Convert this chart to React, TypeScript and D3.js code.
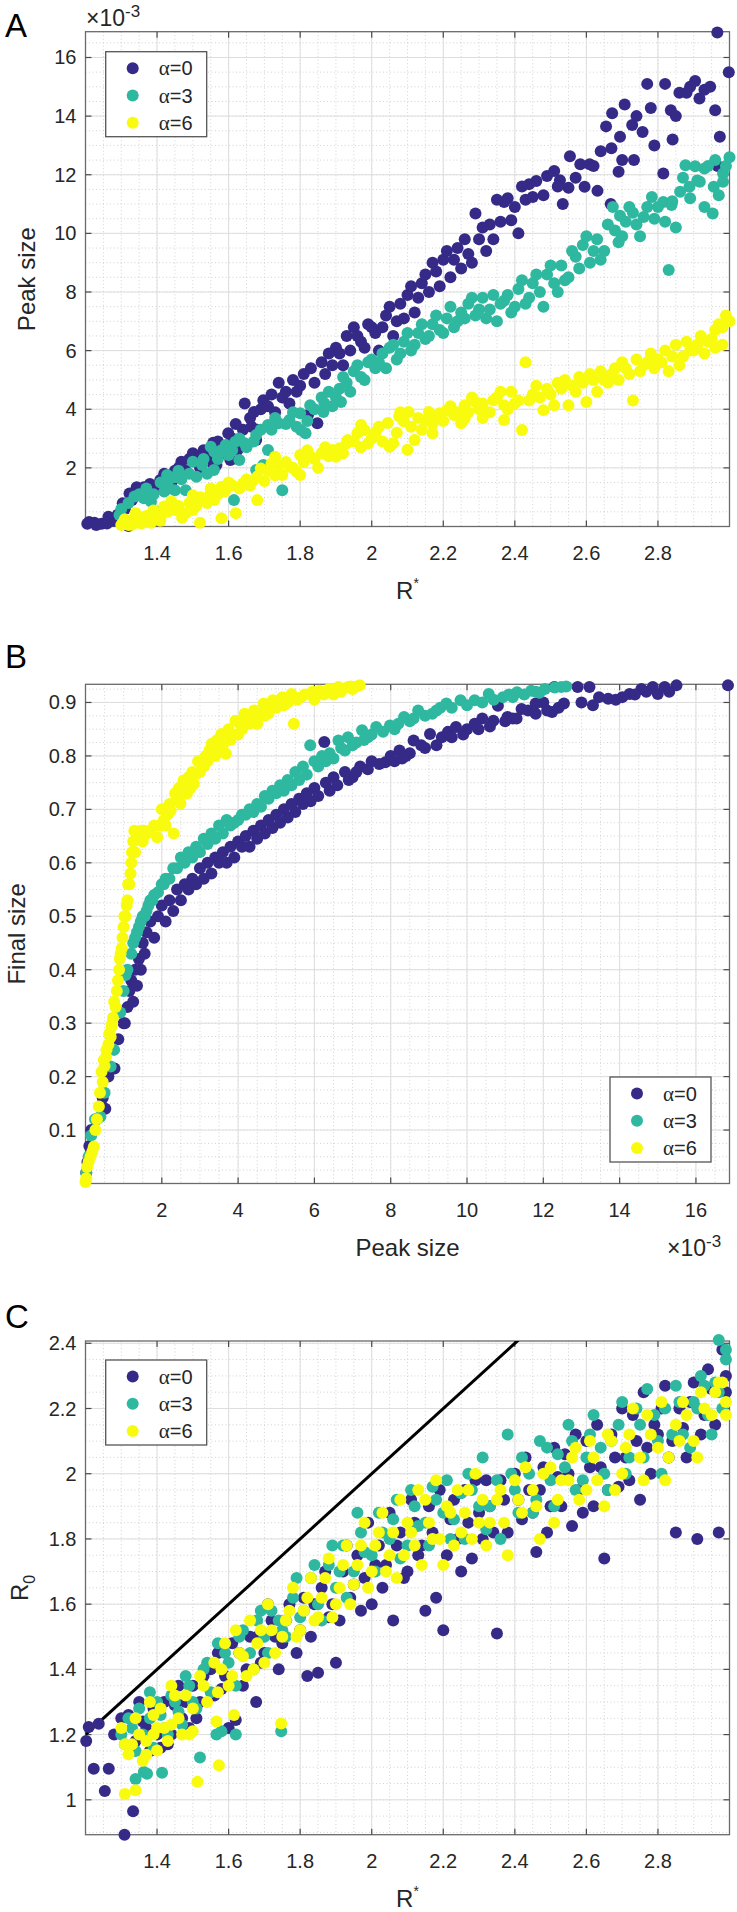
import React from 'react';
import * as d3 from 'd3';

const W = 737;
const H = 1912;
const FONT = "'Liberation Sans', Arial, Helvetica, sans-serif";
const COLORS = ['#352a87', '#2fb8a0', '#f9fb0e'];
const LEGEND_LABELS = ['=0', '=3', '=6'];

// ---------- Panel A : R* vs peak size (x1e-3) ----------
const peakA0: [number, number][] = [
  [1.205,0.09],[1.225,0.13],[1.245,0.09],[1.264,0.33],[1.28,0.2],[1.304,0.79],[1.32,0.02],[1.323,1.13],[1.343,1.34],[1.363,1.34],[1.383,1.13],[1.37,1.0],[1.409,1.59],[1.43,1.3],[1.45,1.9],[1.468,2.21],[1.49,2.3],[1.5,2.5],[1.52,2.0],[1.54,2.4],[1.557,2.86],[1.566,2.1],[1.58,2.7],[1.599,3.18],[1.605,2.27],[1.625,2.61],[1.64,3.3],[1.645,4.2],[1.664,3.4],[1.671,3.91],[1.677,2.95],[1.697,4.31],[1.72,4.5],[1.74,4.9],[1.76,4.6],[1.78,5.0],[1.8,4.8],[1.822,3.8],[1.83,5.4],[1.848,3.52],[1.86,5.6],[1.88,5.9],[1.9,6.1],[1.92,5.5],[1.93,6.5],[1.95,6.8],[1.97,6.3],[1.99,6.9],[2.01,6.6],[2.02,6.0],[2.04,7.2],[2.06,6.5],[2.08,7.6],[2.1,7.9],[2.12,7.3],[2.14,8.3],[2.16,8.0],[2.18,8.7],[2.2,9.1],[2.22,8.5],[2.24,9.5],[2.25,8.8],[2.27,9.3],[2.29,10.68],[2.3,9.8],[2.32,9.4],[2.33,10.3],[2.35,11.15],[2.37,11.07],[2.39,10.45],[2.41,10.0],[2.43,11.15],[2.44,11.68],[2.45,11.24],[2.46,11.79],[2.49,11.96],[2.51,12.13],[2.526,11.81],[2.534,11.0],[2.55,11.56],[2.554,12.63],[2.583,12.36],[2.595,11.59],[2.609,12.36],[2.631,11.45],[2.655,13.65],[2.668,11.0],[2.672,14.1],[2.694,13.3],[2.7,12.5],[2.707,14.4],[2.728,13.7],[2.733,12.5],[2.757,13.46],[2.77,15.1],[2.78,14.28],[2.815,12.04],[2.82,15.1],[2.836,14.2],[2.841,13.2],[2.86,14.8],[2.88,14.8],[2.904,15.2],[2.916,14.6],[2.946,15.0],[2.966,16.85],[2.967,12.3],[2.973,13.3],[2.998,15.5],
  [1.21,0.15],[1.23,0.05],[1.26,0.1],[1.29,0.4],[1.31,0.6],[1.33,0.9],[1.35,1.2],[1.38,1.45],[1.4,1.3],[1.42,1.8],[1.44,1.5],[1.46,2.0],[1.48,1.9],[1.51,2.3],[1.53,2.6],[1.55,2.2],[1.57,2.9],[1.59,2.5],[1.61,3.0],[1.62,3.5],[1.63,2.9],[1.66,3.7],[1.68,3.3],[1.69,4.0],[1.71,4.1],[1.73,3.9],[1.75,4.4],[1.77,4.2],[1.79,4.6],[1.81,5.2],[1.84,4.9],[1.87,5.2],[1.89,5.5],[1.91,5.9],[1.94,6.0],[1.96,6.5],[1.98,6.1],[2.0,6.8],[2.03,6.8],[2.05,7.5],[2.07,7.0],[2.09,7.1],[2.11,8.2],[2.13,7.8],[2.15,8.6],[2.17,9.0],[2.19,8.2],[2.21,9.4],[2.23,9.1],[2.26,9.8],[2.28,9.0],[2.31,10.2],[2.34,9.8],[2.36,10.4],[2.38,11.2],[2.4,10.9],[2.42,11.6],[2.48,11.3],[2.52,11.6],[2.57,11.9],[2.62,12.3],[2.64,12.8],[2.67,12.9],[2.69,12.1],[2.74,14.0],[2.79,13.0],[2.85,14.0],[2.89,15.0],[2.93,14.9],[2.96,14.2]
];
const peakA3: [number, number][] = [
  [1.295,0.39],[1.31,0.2],[1.337,1.02],[1.363,0.96],[1.383,0.85],[1.4,0.5],[1.42,1.19],[1.428,1.76],[1.448,1.68],[1.45,1.24],[1.468,1.61],[1.48,1.24],[1.5,2.21],[1.526,2.1],[1.55,2.72],[1.559,1.93],[1.56,2.55],[1.592,2.78],[1.6,2.44],[1.615,0.9],[1.619,2.89],[1.63,2.27],[1.645,2.84],[1.677,3.12],[1.677,1.93],[1.697,2.1],[1.71,2.61],[1.71,3.46],[1.74,3.52],[1.75,1.24],[1.77,3.63],[1.8,3.86],[1.802,3.29],[1.815,3.18],[1.828,4.14],[1.865,3.91],[1.868,4.2],[1.88,4.6],[1.9,4.4],[1.914,4.25],[1.93,4.9],[1.95,5.3],[1.97,5.1],[1.99,5.6],[2.01,5.4],[2.03,5.9],[2.05,6.1],[2.07,5.7],[2.09,6.3],[2.11,6.0],[2.13,6.6],[2.15,6.4],[2.17,6.9],[2.19,6.7],[2.21,7.1],[2.23,6.8],[2.25,7.3],[2.27,7.6],[2.29,7.2],[2.31,7.8],[2.33,7.4],[2.35,7.0],[2.37,7.7],[2.39,7.3],[2.41,8.1],[2.43,7.6],[2.45,8.3],[2.47,8.0],[2.49,8.6],[2.51,8.3],[2.53,8.9],[2.55,8.5],[2.57,9.2],[2.59,9.6],[2.61,9.0],[2.63,9.8],[2.65,9.4],[2.674,10.9],[2.68,10.1],[2.694,10.6],[2.7,9.9],[2.72,10.9],[2.74,10.3],[2.76,10.56],[2.783,11.24],[2.79,10.5],[2.815,11.07],[2.838,10.97],[2.85,10.2],[2.862,11.42],[2.877,12.32],[2.888,11.59],[2.904,12.29],[2.917,11.76],[2.93,12.21],[2.93,10.9],[2.953,10.68],[2.956,11.59],[2.96,12.5],[2.982,12.04],[2.982,11.76],[2.99,12.3],[3.0,12.6],
  [1.3,0.6],[1.32,0.8],[1.35,1.1],[1.37,1.3],[1.39,1.1],[1.41,1.5],[1.43,1.4],[1.46,1.9],[1.49,1.8],[1.51,1.7],[1.53,2.3],[1.54,1.8],[1.57,2.3],[1.58,2.6],[1.61,2.6],[1.63,3.0],[1.65,2.7],[1.67,2.9],[1.69,3.3],[1.72,3.3],[1.73,3.7],[1.76,3.5],[1.78,3.9],[1.79,3.4],[1.82,3.6],[1.84,4.0],[1.86,4.4],[1.89,4.1],[1.91,4.7],[1.92,5.1],[1.94,4.6],[1.96,5.5],[1.98,5.0],[2.0,5.7],[2.02,5.6],[2.04,5.4],[2.06,6.2],[2.08,5.9],[2.1,6.6],[2.12,6.2],[2.14,6.9],[2.16,6.5],[2.18,7.2],[2.2,6.6],[2.22,7.5],[2.24,7.0],[2.26,7.1],[2.28,7.8],[2.3,7.4],[2.32,7.1],[2.34,7.9],[2.36,7.6],[2.38,7.9],[2.4,7.5],[2.42,8.4],[2.44,7.8],[2.46,8.6],[2.48,7.5],[2.5,8.9],[2.52,8.0],[2.54,8.4],[2.56,9.4],[2.58,8.8],[2.6,9.9],[2.62,9.4],[2.64,9.1],[2.66,10.3],[2.69,9.7],[2.71,10.4],[2.73,10.7],[2.75,9.9],[2.77,10.9],[2.8,10.9],[2.82,10.4],[2.83,8.75],[2.84,11.1],[2.87,11.9],[2.89,11.2],[2.91,11.8],[2.94,12.3],[2.97,11.3]
];
const peakA6: [number, number][] = [
  [1.304,0.11],[1.32,0.05],[1.33,0.06],[1.34,0.45],[1.356,0.1],[1.37,0.36],[1.383,0.13],[1.4,0.28],[1.409,0.2],[1.42,0.68],[1.45,0.56],[1.48,0.45],[1.5,0.56],[1.5,1.07],[1.52,0.13],[1.53,0.96],[1.55,1.3],[1.56,0.9],[1.58,0.28],[1.58,1.36],[1.61,1.41],[1.62,0.45],[1.64,1.47],[1.67,1.59],[1.68,0.9],[1.69,1.98],[1.72,2.15],[1.73,2.38],[1.74,2.1],[1.75,1.76],[1.77,2.04],[1.79,1.87],[1.8,2.44],[1.8,1.76],[1.83,2.38],[1.86,2.5],[1.89,2.61],[1.9,2.38],[1.91,2.67],[1.93,2.84],[1.933,2.95],[1.96,3.18],[1.97,3.46],[1.98,3.29],[1.99,2.84],[2.0,3.0],[2.045,3.53],[2.05,2.72],[2.06,2.84],[2.077,3.75],[2.09,3.58],[2.1,2.62],[2.103,3.91],[2.12,2.95],[2.15,3.63],[2.16,3.91],[2.17,3.18],[2.18,3.7],[2.19,3.86],[2.21,3.97],[2.23,3.8],[2.25,3.52],[2.26,3.69],[2.26,4.14],[2.29,4.25],[2.31,4.2],[2.31,3.7],[2.34,4.31],[2.37,4.14],[2.37,3.63],[2.4,4.2],[2.41,4.3],[2.42,3.29],[2.43,5.6],[2.45,4.5],[2.48,3.97],[2.49,4.7],[2.51,4.14],[2.52,4.9],[2.55,4.14],[2.56,4.8],[2.58,5.1],[2.6,4.25],[2.62,5.0],[2.64,5.3],[2.66,4.9],[2.68,5.4],[2.7,5.6],[2.72,5.2],[2.73,4.3],[2.74,5.7],[2.76,5.5],[2.78,5.9],[2.8,5.7],[2.82,6.0],[2.83,5.3],[2.85,6.2],[2.87,5.8],[2.88,6.3],[2.9,6.0],[2.92,6.5],[2.94,6.3],[2.96,6.7],[2.97,6.9],[2.99,7.2],[2.98,6.2],
  [1.3,0.05],[1.31,0.25],[1.33,0.2],[1.35,0.3],[1.36,0.15],[1.38,0.4],[1.39,0.55],[1.41,0.35],[1.43,0.5],[1.44,0.85],[1.46,0.7],[1.47,0.3],[1.49,0.8],[1.51,0.7],[1.52,1.0],[1.54,0.8],[1.55,1.15],[1.57,1.1],[1.59,1.2],[1.6,1.5],[1.63,1.3],[1.65,1.6],[1.66,1.4],[1.68,1.7],[1.7,1.55],[1.71,1.9],[1.73,1.75],[1.76,2.2],[1.78,2.0],[1.81,2.2],[1.82,2.6],[1.84,2.3],[1.85,2.0],[1.87,2.7],[1.88,2.4],[1.92,2.5],[1.95,2.9],[1.97,2.7],[2.01,3.2],[2.02,3.4],[2.03,2.9],[2.07,3.2],[2.08,3.9],[2.11,3.4],[2.13,3.7],[2.14,3.3],[2.17,3.5],[2.2,3.6],[2.22,4.1],[2.24,3.9],[2.27,3.9],[2.28,4.4],[2.3,4.0],[2.33,3.9],[2.35,4.4],[2.36,4.6],[2.38,4.0],[2.39,4.6],[2.44,4.3],[2.46,4.8],[2.47,4.4],[2.5,4.5],[2.53,4.7],[2.54,5.0],[2.57,4.6],[2.59,4.9],[2.61,5.2],[2.63,4.6],[2.65,5.0],[2.67,5.2],[2.69,5.0],[2.71,5.4],[2.75,5.3],[2.77,5.6],[2.79,5.4],[2.81,5.6],[2.84,5.8],[2.86,5.5],[2.89,6.0],[2.91,6.2],[2.93,5.9],[2.95,6.4],[2.96,6.1],[2.98,6.8],[3.0,7.0]
];

// ---------- Panel B : peak size (x1e-3) vs final size ----------
const finalB0: [number, number][] = [
  [0.02,0.02],[0.05,0.04],[0.1,0.07],[0.15,0.1],[0.3,0.12],[0.45,0.16],[0.52,0.14],[0.6,0.2],[0.76,0.215],[0.86,0.27],[1.0,0.3],[1.03,0.3],[1.1,0.33],[1.15,0.36],[1.2,0.38],[1.3,0.4],[1.4,0.42],[1.5,0.45],[1.6,0.47],[1.7,0.49],[1.9,0.5],[2.0,0.52],[2.2,0.53],[2.4,0.55],[2.6,0.56],[2.8,0.57],[3.0,0.59],[3.2,0.6],[3.4,0.61],[3.6,0.62],[3.8,0.63],[4.0,0.64],[4.2,0.65],[4.4,0.66],[4.6,0.67],[4.8,0.68],[5.0,0.69],[5.2,0.7],[5.4,0.71],[5.6,0.72],[5.8,0.73],[6.0,0.74],[6.26,0.826],[6.3,0.75],[6.5,0.76],[6.8,0.77],[7.0,0.76],[7.2,0.78],[7.5,0.79],[7.86,0.788],[8.0,0.8],[8.23,0.81],[8.4,0.8],[8.6,0.829],[8.8,0.82],[9.03,0.841],[9.34,0.835],[9.5,0.845],[9.71,0.854],[10.0,0.85],[10.2,0.86],[10.4,0.87],[10.69,0.866],[10.81,0.894],[11.06,0.873],[11.2,0.87],[11.43,0.888],[11.6,0.885],[11.8,0.879],[11.8,0.898],[12.0,0.9],[12.23,0.882],[12.29,0.929],[12.54,0.898],[12.9,0.929],[13.21,0.929],[13.46,0.91],[13.7,0.907],[14.07,0.91],[14.26,0.916],[14.57,0.925],[14.87,0.929],[15.0,0.916],[15.18,0.929],[15.49,0.932],[16.84,0.932],
  [1.25,0.34],[1.35,0.37],[1.45,0.4],[1.55,0.43],[1.8,0.46],[2.1,0.49],[2.3,0.51],[2.5,0.53],[2.7,0.55],[2.9,0.56],[3.1,0.57],[3.3,0.58],[3.5,0.6],[3.7,0.6],[3.9,0.61],[4.1,0.63],[4.3,0.63],[4.5,0.645],[4.7,0.655],[4.9,0.665],[5.1,0.675],[5.3,0.685],[5.5,0.695],[5.7,0.71],[5.9,0.715],[6.1,0.725],[6.4,0.735],[6.6,0.745],[6.9,0.755],[7.1,0.77],[7.4,0.775],[7.7,0.785],[8.1,0.79],[8.3,0.795],[8.5,0.805],[8.9,0.815],[9.2,0.82],[9.6,0.835],[9.9,0.84],[10.3,0.85],[10.6,0.855],[11.0,0.865],[11.3,0.87],[12.1,0.885],[12.4,0.89],[13.0,0.9],[13.3,0.895],[13.9,0.905],[14.4,0.915],[14.7,0.92],[15.3,0.92]
];
const finalB3: [number, number][] = [
  [0.02,0.02],[0.08,0.05],[0.15,0.09],[0.25,0.12],[0.39,0.125],[0.5,0.17],[0.66,0.219],[0.75,0.25],[0.91,0.32],[1.0,0.36],[1.05,0.39],[1.1,0.4],[1.2,0.43],[1.3,0.46],[1.4,0.48],[1.5,0.5],[1.6,0.51],[1.7,0.53],[1.8,0.54],[2.0,0.56],[2.1,0.57],[2.3,0.59],[2.5,0.61],[2.7,0.62],[2.9,0.63],[3.1,0.645],[3.3,0.655],[3.5,0.67],[3.7,0.68],[3.9,0.675],[4.1,0.69],[4.3,0.7],[4.5,0.71],[4.7,0.725],[4.9,0.735],[5.1,0.745],[5.3,0.755],[5.5,0.77],[5.7,0.78],[5.89,0.82],[6.0,0.79],[6.2,0.8],[6.4,0.805],[6.63,0.829],[6.7,0.815],[6.88,0.835],[7.0,0.82],[7.25,0.848],[7.4,0.835],[7.62,0.854],[7.98,0.857],[8.1,0.85],[8.35,0.873],[8.5,0.865],[8.72,0.885],[9.09,0.879],[9.3,0.89],[9.46,0.898],[9.83,0.904],[10.2,0.904],[10.4,0.9],[10.57,0.916],[10.94,0.91],[11.1,0.915],[11.31,0.919],[11.68,0.922],[11.9,0.918],[12.04,0.925],[12.3,0.928],[12.47,0.929],[12.6,0.93],
  [1.25,0.45],[1.35,0.47],[1.45,0.49],[1.55,0.5],[1.65,0.52],[1.75,0.53],[1.9,0.545],[2.05,0.56],[2.2,0.57],[2.4,0.59],[2.6,0.6],[2.8,0.61],[3.0,0.62],[3.2,0.635],[3.4,0.645],[3.6,0.655],[3.8,0.67],[4.0,0.68],[4.2,0.69],[4.4,0.695],[4.6,0.705],[4.8,0.72],[5.0,0.73],[5.2,0.735],[5.4,0.745],[5.6,0.755],[5.8,0.765],[6.1,0.78],[6.3,0.79],[6.5,0.795],[6.8,0.81],[7.1,0.825],[7.3,0.83],[7.5,0.84],[7.8,0.845],[8.2,0.86],[8.6,0.87],[8.9,0.875],[9.2,0.885],[9.6,0.89],[10.0,0.895],[10.7,0.905],[11.2,0.91],[11.5,0.915],[11.8,0.92]
];
const finalB6: [number, number][] = [
  [0.0,0.003],[0.02,0.01],[0.04,0.031],[0.08,0.04],[0.13,0.05],[0.18,0.06],[0.22,0.069],[0.26,0.1],[0.3,0.12],[0.35,0.144],[0.38,0.17],[0.42,0.209],[0.45,0.19],[0.48,0.231],[0.54,0.237],[0.6,0.26],[0.66,0.274],[0.68,0.293],[0.72,0.31],[0.79,0.33],[0.82,0.36],[0.85,0.38],[0.9,0.42],[0.95,0.44],[1.0,0.48],[1.05,0.5],[1.1,0.53],[1.15,0.56],[1.2,0.6],[1.25,0.64],[1.3,0.62],[1.35,0.65],[1.45,0.66],[1.5,0.64],[1.61,0.655],[1.7,0.66],[1.88,0.648],[1.95,0.67],[2.05,0.679],[2.15,0.69],[2.23,0.698],[2.31,0.655],[2.4,0.72],[2.49,0.711],[2.57,0.754],[2.66,0.729],[2.75,0.74],[2.84,0.748],[2.92,0.767],[3.0,0.77],[3.1,0.78],[3.2,0.79],[3.31,0.823],[3.4,0.8],[3.5,0.81],[3.56,0.841],[3.68,0.804],[3.8,0.83],[3.93,0.866],[4.0,0.84],[4.17,0.879],[4.3,0.86],[4.42,0.885],[4.5,0.86],[4.67,0.898],[4.8,0.88],[4.91,0.904],[5.0,0.89],[5.16,0.91],[5.3,0.9],[5.4,0.916],[5.46,0.86],[5.65,0.91],[5.9,0.916],[6.0,0.905],[6.14,0.922],[6.38,0.925],[6.5,0.915],[6.63,0.929],[6.88,0.929],[7.0,0.925],[7.19,0.932],
  [0.5,0.22],[0.55,0.25],[0.62,0.28],[0.7,0.3],[0.75,0.34],[0.88,0.4],[0.92,0.43],[0.97,0.46],[1.02,0.5],[1.08,0.52],[1.12,0.56],[1.18,0.58],[1.22,0.62],[1.28,0.66],[1.4,0.65],[1.55,0.66],[1.8,0.67],[2.0,0.7],[2.1,0.67],[2.2,0.71],[2.35,0.73],[2.45,0.74],[2.6,0.74],[2.7,0.76],[2.8,0.77],[2.95,0.79],[3.05,0.79],[3.15,0.8],[3.25,0.81],[3.45,0.83],[3.6,0.82],[3.75,0.85],[3.85,0.84],[4.05,0.86],[4.1,0.85],[4.25,0.87],[4.35,0.87],[4.55,0.88],[4.7,0.875],[4.85,0.89],[5.05,0.9],[5.2,0.895],[5.35,0.91],[5.55,0.905],[5.75,0.915],[5.95,0.92],[6.25,0.915],[6.45,0.925],[6.7,0.92],[6.95,0.93],[7.1,0.93]
];

// ---------- Panel C : R* vs R0 ----------
const r0C0: [number, number][] = [
  [1.202,1.18],[1.209,1.223],[1.223,1.095],[1.237,1.233],[1.254,1.027],[1.265,1.095],[1.309,0.893],[1.32,1.26],[1.333,0.965],[1.34,1.18],[1.36,1.24],[1.38,1.15],[1.4,1.2],[1.42,1.3],[1.43,1.17],[1.45,1.29],[1.47,1.25],[1.49,1.22],[1.5,1.35],[1.52,1.3],[1.55,1.4],[1.58,1.34],[1.6,1.22],[1.62,1.245],[1.63,1.45],[1.65,1.4],[1.677,1.3],[1.68,1.5],[1.7,1.45],[1.72,1.55],[1.75,1.48],[1.77,1.6],[1.8,1.52],[1.82,1.38],[1.84,1.6],[1.86,1.65],[1.88,1.56],[1.9,1.42],[1.92,1.7],[1.94,1.62],[1.96,1.75],[1.98,1.68],[2.0,1.6],[2.02,1.78],[2.04,1.72],[2.06,1.55],[2.08,1.82],[2.1,1.7],[2.12,1.85],[2.14,1.78],[2.16,1.9],[2.18,1.62],[2.2,1.52],[2.22,1.86],[2.24,1.8],[2.26,1.95],[2.28,1.74],[2.3,1.88],[2.32,1.98],[2.34,1.82],[2.35,1.51],[2.37,1.92],[2.4,2.0],[2.42,1.86],[2.44,1.95],[2.46,1.76],[2.48,2.02],[2.5,1.9],[2.52,1.99],[2.54,2.06],[2.56,1.84],[2.58,1.95],[2.6,2.1],[2.62,1.9],[2.64,2.02],[2.65,1.74],[2.67,2.12],[2.69,1.96],[2.71,2.05],[2.73,2.18],[2.75,1.92],[2.77,2.08],[2.79,2.15],[2.81,2.2],[2.83,2.05],[2.85,1.82],[2.87,2.14],[2.89,2.22],[2.91,1.8],[2.93,2.18],[2.95,2.26],[2.97,1.82],[2.98,2.38],[2.99,2.25],
  [1.28,1.2],[1.3,1.25],[1.35,1.3],[1.37,1.22],[1.39,1.28],[1.41,1.16],[1.44,1.2],[1.46,1.35],[1.48,1.3],[1.51,1.25],[1.53,1.38],[1.56,1.32],[1.57,1.45],[1.59,1.38],[1.61,1.48],[1.64,1.35],[1.66,1.5],[1.69,1.42],[1.71,1.6],[1.73,1.5],[1.74,1.4],[1.76,1.55],[1.79,1.45],[1.81,1.62],[1.83,1.5],[1.85,1.39],[1.87,1.7],[1.89,1.6],[1.91,1.55],[1.93,1.78],[1.95,1.66],[1.97,1.58],[1.99,1.85],[2.01,1.72],[2.03,1.65],[2.05,1.88],[2.07,1.78],[2.09,1.68],[2.11,1.92],[2.13,1.75],[2.15,1.58],[2.17,1.82],[2.19,1.95],[2.21,1.75],[2.23,1.92],[2.25,1.7],[2.27,1.85],[2.29,1.98],[2.31,1.8],[2.33,1.9],[2.36,1.98],[2.38,1.82],[2.41,1.92],[2.43,2.05],[2.45,1.88],[2.47,1.95],[2.49,1.82],[2.51,2.08],[2.53,1.9],[2.55,2.0],[2.57,2.12],[2.59,1.88],[2.61,2.02],[2.63,2.15],[2.66,1.95],[2.68,2.05],[2.7,2.2],[2.72,1.98],[2.74,2.1],[2.76,2.25],[2.78,2.0],[2.8,2.12],[2.82,2.27],[2.84,2.1],[2.86,2.2],[2.88,2.05],[2.9,2.28],[2.92,2.12],[2.94,2.32],[2.96,2.15],[2.99,2.3]
];
const r0C3: [number, number][] = [
  [1.31,1.17],[1.33,1.22],[1.34,1.064],[1.35,1.28],[1.363,1.085],[1.372,1.08],[1.38,1.25],[1.4,1.3],[1.414,1.083],[1.42,1.22],[1.44,1.32],[1.46,1.27],[1.48,1.38],[1.5,1.3],[1.52,1.13],[1.54,1.42],[1.566,1.2],[1.58,1.21],[1.59,1.45],[1.62,1.2],[1.63,1.5],[1.66,1.45],[1.68,1.55],[1.7,1.5],[1.72,1.58],[1.747,1.21],[1.75,1.52],[1.78,1.62],[1.8,1.56],[1.83,1.68],[1.85,1.6],[1.88,1.72],[1.9,1.65],[1.92,1.78],[1.95,1.7],[1.97,1.82],[2.0,1.75],[2.02,1.88],[2.05,1.8],[2.07,1.92],[2.1,1.78],[2.12,1.9],[2.15,1.85],[2.17,1.96],[2.2,1.88],[2.22,1.8],[2.25,1.94],[2.27,2.0],[2.3,1.9],[2.32,1.83],[2.35,1.98],[2.38,2.12],[2.4,1.95],[2.42,2.05],[2.45,1.88],[2.47,2.1],[2.5,1.98],[2.52,2.06],[2.55,2.15],[2.57,1.95],[2.6,2.05],[2.62,2.18],[2.65,2.0],[2.67,2.1],[2.7,2.22],[2.72,2.05],[2.75,2.15],[2.77,2.26],[2.8,2.1],[2.82,2.2],[2.85,2.27],[2.87,2.12],[2.9,2.22],[2.92,2.3],[2.94,2.18],[2.96,2.28],[2.97,2.41],[2.99,2.35],[2.98,2.2],
  [1.3,1.2],[1.32,1.25],[1.34,1.15],[1.36,1.2],[1.38,1.33],[1.39,1.16],[1.41,1.26],[1.43,1.2],[1.45,1.3],[1.47,1.23],[1.49,1.35],[1.51,1.28],[1.53,1.4],[1.55,1.33],[1.57,1.48],[1.6,1.42],[1.62,1.35],[1.64,1.52],[1.67,1.4],[1.69,1.58],[1.71,1.45],[1.74,1.55],[1.76,1.5],[1.79,1.68],[1.81,1.58],[1.84,1.72],[1.86,1.55],[1.89,1.78],[1.91,1.7],[1.93,1.62],[1.96,1.88],[1.98,1.76],[2.01,1.7],[2.03,1.82],[2.06,1.86],[2.08,1.74],[2.11,1.95],[2.13,1.84],[2.16,1.78],[2.18,1.92],[2.21,1.98],[2.23,1.86],[2.26,1.8],[2.28,1.95],[2.31,2.05],[2.33,1.9],[2.36,1.8],[2.39,2.0],[2.41,1.88],[2.44,2.0],[2.46,1.92],[2.49,2.08],[2.51,1.9],[2.54,2.02],[2.56,2.1],[2.59,1.98],[2.61,2.12],[2.64,2.08],[2.66,1.95],[2.69,2.15],[2.71,2.0],[2.74,2.2],[2.76,2.05],[2.79,2.18],[2.81,2.0],[2.84,2.12],[2.86,2.22],[2.89,2.08],[2.91,2.2],[2.93,2.27],[2.95,2.12],[2.97,2.25],[2.99,2.38]
];
const r0C6: [number, number][] = [
  [1.31,1.018],[1.31,1.17],[1.33,1.17],[1.34,1.029],[1.35,1.2],[1.37,1.18],[1.37,1.138],[1.39,1.26],[1.4,1.22],[1.4,1.151],[1.42,1.22],[1.44,1.23],[1.45,1.32],[1.47,1.2],[1.49,1.2],[1.5,1.21],[1.513,1.055],[1.53,1.35],[1.566,1.24],[1.573,1.106],[1.58,1.4],[1.6,1.35],[1.615,1.26],[1.63,1.45],[1.65,1.38],[1.68,1.48],[1.7,1.42],[1.72,1.52],[1.747,1.234],[1.75,1.5],[1.77,1.58],[1.8,1.52],[1.82,1.62],[1.85,1.56],[1.87,1.68],[1.9,1.6],[1.92,1.72],[1.95,1.66],[1.97,1.78],[2.0,1.7],[2.02,1.82],[2.05,1.75],[2.07,1.68],[2.1,1.85],[2.12,1.78],[2.15,1.92],[2.17,1.8],[2.2,1.72],[2.22,1.88],[2.25,1.82],[2.27,1.95],[2.3,1.85],[2.32,1.78],[2.35,1.92],[2.37,1.85],[2.4,1.98],[2.42,1.88],[2.45,1.95],[2.47,1.8],[2.5,2.02],[2.52,1.92],[2.55,1.98],[2.57,2.08],[2.6,1.95],[2.62,2.05],[2.65,1.9],[2.67,2.1],[2.7,2.0],[2.72,2.12],[2.75,2.05],[2.77,2.18],[2.8,2.08],[2.82,1.98],[2.85,2.15],[2.87,2.22],[2.9,2.1],[2.92,2.25],[2.95,2.18],[2.97,2.28],[2.99,2.22],
  [1.3,1.22],[1.32,1.14],[1.34,1.25],[1.36,1.12],[1.38,1.3],[1.39,1.2],[1.41,1.28],[1.43,1.18],[1.44,1.35],[1.46,1.25],[1.48,1.32],[1.5,1.28],[1.52,1.38],[1.54,1.3],[1.56,1.42],[1.57,1.33],[1.59,1.48],[1.61,1.38],[1.62,1.52],[1.64,1.44],[1.66,1.55],[1.67,1.4],[1.69,1.52],[1.71,1.6],[1.73,1.45],[1.76,1.55],[1.78,1.65],[1.79,1.5],[1.81,1.58],[1.83,1.68],[1.84,1.55],[1.86,1.62],[1.88,1.74],[1.89,1.56],[1.91,1.65],[1.93,1.78],[1.94,1.6],[1.96,1.72],[1.98,1.85],[1.99,1.65],[2.01,1.78],[2.03,1.88],[2.04,1.7],[2.06,1.82],[2.08,1.92],[2.09,1.75],[2.11,1.82],[2.13,1.95],[2.14,1.72],[2.16,1.85],[2.18,1.98],[2.19,1.8],[2.21,1.9],[2.23,1.78],[2.24,1.95],[2.26,1.88],[2.28,1.8],[2.29,2.0],[2.31,1.92],[2.33,1.85],[2.36,1.95],[2.38,1.75],[2.41,1.92],[2.43,2.02],[2.46,1.9],[2.48,2.0],[2.51,1.85],[2.53,1.98],[2.56,2.05],[2.58,1.92],[2.61,2.1],[2.63,1.98],[2.66,2.12],[2.68,1.95],[2.71,2.08],[2.73,2.2],[2.76,1.98],[2.78,2.12],[2.81,2.22],[2.83,2.05],[2.86,2.1],[2.88,2.18],[2.91,2.05],[2.93,2.2],[2.96,2.25],[2.98,2.28],[2.99,2.18]
];

// ---------- Ticks ----------
const rStarTicks = [1.4, 1.6, 1.8, 2, 2.2, 2.4, 2.6, 2.8];
const rStarTickLabels = ['1.4', '1.6', '1.8', '2', '2.2', '2.4', '2.6', '2.8'];
const peakTicks = [2, 4, 6, 8, 10, 12, 14, 16];
const peakTickLabels = ['2', '4', '6', '8', '10', '12', '14', '16'];
const finalTicks = [0.1, 0.2, 0.3, 0.4, 0.5, 0.6, 0.7, 0.8, 0.9];
const finalTickLabels = ['0.1', '0.2', '0.3', '0.4', '0.5', '0.6', '0.7', '0.8', '0.9'];
const r0Ticks = [1, 1.2, 1.4, 1.6, 1.8, 2, 2.2, 2.4];
const r0TickLabels = ['1', '1.2', '1.4', '1.6', '1.8', '2', '2.2', '2.4'];
const identityLine: [number, number][] = [[1.2, 1.2], [2.41, 2.41]];

type Box = { l: number; r: number; t: number; b: number };

interface PanelProps {
  box: Box;
  xDomain: [number, number];
  yDomain: [number, number];
  xTicks: number[];
  xTickLabels: string[];
  yTicks: number[];
  yTickLabels: string[];
  xMinor: number;
  yMinor: number;
  series: [number, number][][];
  letter: string;
  letterY: number;
  xLabel: React.ReactNode;
  yLabel: React.ReactNode;
  yLabelX: number;
  legend: { x: number; y: number };
  xExp?: { x: number; y: number };
  yExp?: { x: number; y: number };
  line?: [number, number][];
  id: string;
}

function Exp({ x, y }: { x: number; y: number }) {
  return (
    <text x={x} y={y} fontFamily={FONT} fontSize={23} fill="#262626">
      ×10<tspan dy={-9} fontSize={17}>-3</tspan>
    </text>
  );
}

function Panel(p: PanelProps) {
  const { box } = p;
  const xs = d3.scaleLinear().domain(p.xDomain).range([box.l, box.r]);
  const ys = d3.scaleLinear().domain(p.yDomain).range([box.b, box.t]);
  const eps = 1e-9;
  const xMinorVals = d3.range(Math.ceil(p.xDomain[0] / p.xMinor - eps) * p.xMinor, p.xDomain[1] + eps, p.xMinor);
  const yMinorVals = d3.range(Math.ceil(p.yDomain[0] / p.yMinor - eps) * p.yMinor, p.yDomain[1] + eps, p.yMinor);
  const lineGen = d3.line<[number, number]>().x((d) => xs(d[0])).y((d) => ys(d[1]));
  const tickLen = 6;
  const r = 6;
  return (
    <g>
      <defs>
        <clipPath id={`clip-${p.id}`}>
          <rect x={box.l} y={box.t} width={box.r - box.l} height={box.b - box.t} />
        </clipPath>
      </defs>
      <rect x={box.l} y={box.t} width={box.r - box.l} height={box.b - box.t} fill="#ffffff" />
      {xMinorVals.map((v, i) => (
        <line key={`xm${i}`} x1={xs(v)} x2={xs(v)} y1={box.t} y2={box.b} stroke="#c8c8c8" strokeWidth={0.8} strokeDasharray="1,2.5" />
      ))}
      {yMinorVals.map((v, i) => (
        <line key={`ym${i}`} y1={ys(v)} y2={ys(v)} x1={box.l} x2={box.r} stroke="#c8c8c8" strokeWidth={0.8} strokeDasharray="1,2.5" />
      ))}
      {p.xTicks.map((v, i) => (
        <line key={`xg${i}`} x1={xs(v)} x2={xs(v)} y1={box.t} y2={box.b} stroke="#dedede" strokeWidth={1} />
      ))}
      {p.yTicks.map((v, i) => (
        <line key={`yg${i}`} y1={ys(v)} y2={ys(v)} x1={box.l} x2={box.r} stroke="#dedede" strokeWidth={1} />
      ))}
      <rect x={box.l} y={box.t} width={box.r - box.l} height={box.b - box.t} fill="none" stroke="#6a6a6a" strokeWidth={1.3} />
      {p.xTicks.map((v, i) => (
        <g key={`xt${i}`}>
          <line x1={xs(v)} x2={xs(v)} y1={box.b} y2={box.b - tickLen} stroke="#4a4a4a" strokeWidth={1.2} />
          <line x1={xs(v)} x2={xs(v)} y1={box.t} y2={box.t + tickLen} stroke="#4a4a4a" strokeWidth={1.2} />
          <text x={xs(v)} y={box.b + 33} textAnchor="middle" fontFamily={FONT} fontSize={20} fill="#262626">
            {p.xTickLabels[i]}
          </text>
        </g>
      ))}
      {p.yTicks.map((v, i) => (
        <g key={`yt${i}`}>
          <line y1={ys(v)} y2={ys(v)} x1={box.l} x2={box.l + tickLen} stroke="#4a4a4a" strokeWidth={1.2} />
          <line y1={ys(v)} y2={ys(v)} x1={box.r} x2={box.r - tickLen} stroke="#4a4a4a" strokeWidth={1.2} />
          <text x={box.l - 9} y={ys(v) + 7} textAnchor="end" fontFamily={FONT} fontSize={20} fill="#262626">
            {p.yTickLabels[i]}
          </text>
        </g>
      ))}
      {p.line && (
        <path d={lineGen(p.line) || ''} stroke="#000" strokeWidth={3} fill="none" clipPath={`url(#clip-${p.id})`} />
      )}
      {p.series.map((s, si) => (
        <g key={`s${si}`}>
          {s.map((d, i) => (
            <circle key={i} cx={xs(d[0])} cy={ys(d[1])} r={r} fill={COLORS[si]} />
          ))}
        </g>
      ))}
      <g transform={`translate(${p.legend.x},${p.legend.y})`}>
        <rect x={0} y={0} width={101} height={85} fill="#fff" stroke="#555" strokeWidth={1.3} />
        {LEGEND_LABELS.map((lab, i) => (
          <g key={lab} transform={`translate(0,${16.5 + i * 27.3})`}>
            <circle cx={27} cy={0} r={6} fill={COLORS[i]} />
            <text x={53} y={7} fontFamily={FONT} fontSize={20} fill="#262626">
              <tspan fontFamily="'Liberation Serif', 'Times New Roman', serif" fontSize={21}>α</tspan>
              {lab}
            </text>
          </g>
        ))}
      </g>
      <text x={5} y={p.letterY} fontFamily={FONT} fontSize={33} fill="#000">
        {p.letter}
      </text>
      <text x={(box.l + box.r) / 2} y={box.b + 72} textAnchor="middle" fontFamily={FONT} fontSize={24} fill="#262626">
        {p.xLabel}
      </text>
      <text
        transform={`translate(${p.yLabelX},${(box.t + box.b) / 2}) rotate(-90)`}
        textAnchor="middle"
        fontFamily={FONT}
        fontSize={24}
        fill="#262626"
      >
        {p.yLabel}
      </text>
      {p.xExp && <Exp x={p.xExp.x} y={p.xExp.y} />}
      {p.yExp && <Exp x={p.yExp.x} y={p.yExp.y} />}
    </g>
  );
}

export default function App() {
  const rStar = (
    <>
      R<tspan dy={-11} fontSize={14}>*</tspan>
    </>
  );
  const r0 = (
    <>
      R<tspan dy={7} fontSize={16}>0</tspan>
    </>
  );
  return (
    <svg
      width={W}
      height={H}
      viewBox={`0 0 ${W} ${H}`}
      style={{ position: 'absolute', left: 0, top: 0, background: '#fff' }}
    >
      <rect x={0} y={0} width={W} height={H} fill="#fff" />
      <Panel
        id="A"
        box={{ l: 85.5, r: 729.5, t: 31.7, b: 526.5 }}
        xDomain={[1.2, 3.0]}
        yDomain={[0, 16.88]}
        xTicks={rStarTicks}
        xTickLabels={rStarTickLabels}
        yTicks={peakTicks}
        yTickLabels={peakTickLabels}
        xMinor={0.05}
        yMinor={0.5}
        series={[peakA0, peakA3, peakA6]}
        letter="A"
        letterY={37}
        xLabel={rStar}
        yLabel="Peak size"
        yLabelX={35}
        legend={{ x: 105.7, y: 51.7 }}
        yExp={{ x: 86, y: 26 }}
      />
      <Panel
        id="B"
        box={{ l: 85.5, r: 729.5, t: 684.3, b: 1183.5 }}
        xDomain={[0, 16.88]}
        yDomain={[0, 0.934]}
        xTicks={peakTicks}
        xTickLabels={peakTickLabels}
        yTicks={finalTicks}
        yTickLabels={finalTickLabels}
        xMinor={0.5}
        yMinor={0.025}
        series={[finalB0, finalB3, finalB6]}
        letter="B"
        letterY={668}
        xLabel="Peak size"
        yLabel="Final size"
        yLabelX={25}
        legend={{ x: 610, y: 1077 }}
        xExp={{ x: 667, y: 1256 }}
      />
      <Panel
        id="C"
        box={{ l: 85.5, r: 729.5, t: 1341, b: 1834.7 }}
        xDomain={[1.2, 3.0]}
        yDomain={[0.893, 2.407]}
        xTicks={rStarTicks}
        xTickLabels={rStarTickLabels}
        yTicks={r0Ticks}
        yTickLabels={r0TickLabels}
        xMinor={0.05}
        yMinor={0.05}
        series={[r0C0, r0C3, r0C6]}
        letter="C"
        letterY={1328}
        xLabel={rStar}
        yLabel={r0}
        yLabelX={28}
        legend={{ x: 105.7, y: 1360 }}
        line={identityLine}
      />
    </svg>
  );
}
